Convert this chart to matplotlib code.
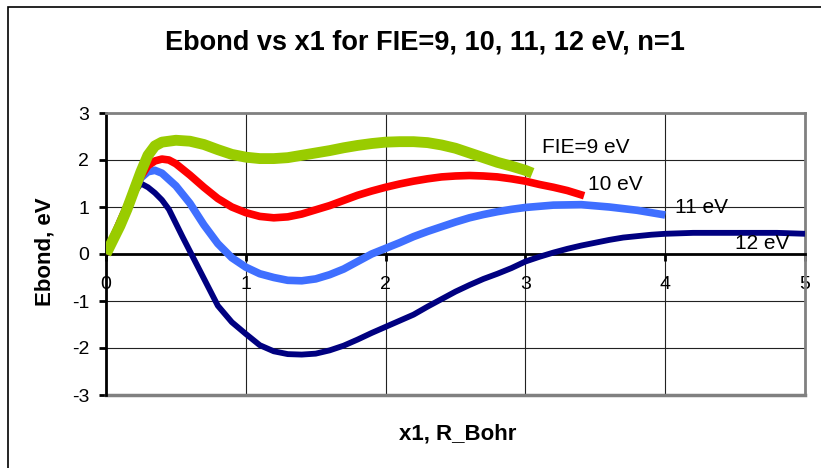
import matplotlib
matplotlib.use("Agg")
import matplotlib.pyplot as plt
from matplotlib.patches import Rectangle

plt.rcParams['font.family'] = ['Liberation Sans', 'DejaVu Sans']
plt.rcParams['axes.unicode_minus'] = False

# Ebond(x1) curves for each first ionization energy
x_9 = [0.0, 0.05, 0.1, 0.15, 0.2, 0.25, 0.3, 0.35, 0.4, 0.5, 0.6, 0.7, 0.8, 0.9, 1.0,
       1.1, 1.2, 1.3, 1.4, 1.5, 1.6, 1.7, 1.8, 1.9, 2.0, 2.1, 2.2, 2.3, 2.4, 2.5,
       2.6, 2.7, 2.8, 2.9, 3.0, 3.05]
e_9 = [0.0, 0.3, 0.6, 0.95, 1.35, 1.75, 2.1, 2.3, 2.38, 2.42, 2.4, 2.33, 2.22, 2.12, 2.06,
       2.03, 2.03, 2.05, 2.1, 2.15, 2.2, 2.26, 2.31, 2.35, 2.38, 2.39, 2.39, 2.37, 2.32, 2.25,
       2.15, 2.05, 1.95, 1.87, 1.78, 1.72]

x_10 = [0.0, 0.1, 0.2, 0.25, 0.3, 0.35, 0.4, 0.45, 0.5, 0.6, 0.7, 0.8, 0.9, 1.0, 1.1,
        1.2, 1.3, 1.4, 1.5, 1.6, 1.7, 1.8, 1.9, 2.0, 2.1, 2.2, 2.3, 2.4, 2.5, 2.6,
        2.7, 2.8, 2.9, 3.0, 3.1, 3.2, 3.3, 3.42]
e_10 = [0.0, 0.68, 1.35, 1.65, 1.88, 1.98, 2.02, 2.0, 1.92, 1.68, 1.42, 1.18, 1.0, 0.88, 0.8,
        0.77, 0.79, 0.85, 0.94, 1.03, 1.14, 1.25, 1.34, 1.42, 1.49, 1.55, 1.6, 1.64, 1.66, 1.67,
        1.66, 1.64, 1.6, 1.55, 1.48, 1.42, 1.35, 1.24]

x_11 = [0.0, 0.1, 0.2, 0.25, 0.3, 0.35, 0.4, 0.5, 0.6, 0.7, 0.8, 0.9, 1.0, 1.1, 1.2,
        1.3, 1.4, 1.5, 1.6, 1.7, 1.8, 1.9, 2.0, 2.1, 2.2, 2.3, 2.4, 2.5, 2.6, 2.7,
        2.8, 2.9, 3.0, 3.2, 3.4, 3.6, 3.8, 4.0]
e_11 = [0.0, 0.68, 1.35, 1.62, 1.75, 1.78, 1.72, 1.45, 1.08, 0.62, 0.22, -0.08, -0.28, -0.42, -0.5,
        -0.56, -0.57, -0.53, -0.44, -0.32, -0.16, 0.0, 0.12, 0.24, 0.37, 0.48, 0.58, 0.68, 0.77, 0.84,
        0.9, 0.95, 0.99, 1.04, 1.05, 1.0, 0.93, 0.83]

x_12 = [0.0, 0.1, 0.2, 0.25, 0.3, 0.35, 0.4, 0.45, 0.5, 0.55, 0.6, 0.7, 0.8, 0.9, 1.0,
        1.1, 1.2, 1.3, 1.4, 1.5, 1.6, 1.7, 1.8, 1.9, 2.0, 2.1, 2.2, 2.3, 2.4, 2.5,
        2.6, 2.7, 2.8, 2.9, 3.0, 3.1, 3.2, 3.3, 3.4, 3.5, 3.6, 3.7, 3.8, 3.9, 4.0,
        4.2, 4.5, 4.8, 5.0]
e_12 = [0.0, 0.68, 1.3, 1.5, 1.42, 1.3, 1.15, 0.95, 0.65, 0.35, 0.06, -0.52, -1.1, -1.45, -1.7,
        -1.94, -2.07, -2.13, -2.14, -2.12, -2.05, -1.95, -1.82, -1.68, -1.55, -1.42, -1.29, -1.12, -0.96, -0.8,
        -0.66, -0.53, -0.42, -0.3, -0.16, -0.06, 0.03, 0.11, 0.18, 0.24, 0.3, 0.35, 0.38, 0.41, 0.43,
        0.45, 0.45, 0.45, 0.43]

series_labels = ["FIE=9 eV", "10 eV", "11 eV", "12 eV"]
label_pos = [(3.12, 2.26), (3.45, 1.47), (4.07, 0.98), (4.5, 0.23)]

fig = plt.figure(figsize=(8.21, 4.68), dpi=100)
ax = fig.add_axes([106/821, 1 - 395/468, 699/821, 282/468])

ax.plot(x_12, e_12, color='#000080', lw=4.2, solid_capstyle='butt', zorder=3)
ax.plot(x_11, e_11, color='#3F6FFF', lw=5.5, solid_capstyle='butt', zorder=4)
ax.plot(x_10, e_10, color='#FF0000', lw=5.5, solid_capstyle='butt', zorder=5)
ax.plot(x_9, e_9, color='#99CC00', lw=7.8, solid_capstyle='butt', zorder=6)

for txt, (tx, ty) in zip(series_labels, label_pos):
    ax.text(tx, ty, txt, fontsize=15, ha='left', va='center', zorder=7)

ax.set_xlim(0, 5)
ax.set_ylim(-3, 3)
ax.set_xticks(range(0, 6))
ax.set_yticks(range(-3, 4))
ax.grid(True, color='#222222', lw=0.8)
ax.set_axisbelow(True)

# Excel-style axes: x axis crosses at y=0
ax.spines['bottom'].set_position(('data', 0))
for side in ('bottom', 'left'):
    ax.spines[side].set_color('black')
    ax.spines[side].set_linewidth(2)
    ax.spines[side].set_zorder(2.5)
for side in ('top', 'right'):
    ax.spines[side].set_color('#808080')
    ax.spines[side].set_linewidth(2)
ax.axhline(-3, color='#808080', lw=2.5, clip_on=False, zorder=2)

ax.tick_params(axis='y', direction='out', length=5, width=2, pad=7, labelsize=14)
ax.tick_params(axis='x', direction='out', length=5, width=2, pad=11, labelsize=14)

fig.text(0.517, 1 - 43/468, "Ebond vs x1 for FIE=9, 10, 11, 12 eV, n=1",
         fontsize=19.5, fontweight='bold', ha='center', va='center')
fig.text(45/821, 1 - 252/468, "Ebond, eV", fontsize=16, fontweight='bold',
         rotation=90, ha='center', va='center')
fig.text(458/821, 1 - 434/468, "x1, R_Bohr", fontsize=16, fontweight='bold',
         ha='center', va='center')

# chart frame
fig.patches.append(Rectangle((8/821, -0.1), 1.2, 1 - 7/468 + 0.1, transform=fig.transFigure,
                             fill=False, ec='black', lw=1.2, zorder=0))

fig.savefig("out.png", dpi=100)
